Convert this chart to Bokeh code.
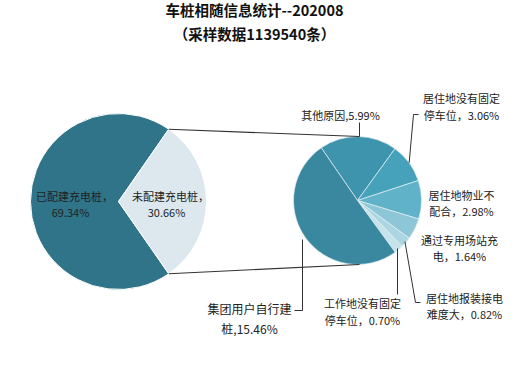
import math
from bokeh.plotting import figure
from bokeh.models import Range1d
from bokeh.core.properties import value
from bokeh.embed import file_html
from bokeh.resources import INLINE

# ---------------- data ----------------
title_lines = ["车桩相随信息统计--202008", "（采样数据1139540条）"]

main_labels = ["已配建充电桩", "未配建充电桩"]
main_values = [69.34, 30.66]

sub_labels = ["其他原因", "居住地没有固定停车位", "居住地物业不配合",
              "通过专用场站充电", "居住地报装接电难度大",
              "工作地没有固定停车位", "集团用户自行建桩"]
sub_values = [5.99, 3.06, 2.98, 1.64, 0.82, 0.70, 15.46]

# ---------------- style / layout ----------------
W, H = 504, 349
main_colors = ["#2F7489", "#DCE8EE"]
sub_colors = ["#3E94AC", "#46A2BB", "#60B2C9", "#8DC6D6", "#AAD5E1", "#C7E2EA", "#3A88A0"]
FONT = "Noto Sans CJK SC"

def Y(img_y):
    return 365 - img_y

p = figure(width=W, height=H, output_backend="svg", toolbar_location=None,
           x_range=Range1d(8, 8 + W), y_range=Range1d(365 - 8 - H, 365 - 8),
           min_border=0)
p.axis.visible = False
p.grid.visible = False
p.outline_line_color = None
p.background_fill_color = "white"

# main pie: second slice centred on the right (angle 0)
mcx, mcy, mr = 126, Y(209), 88
tot = sum(main_values)
half = main_values[1] / tot * math.pi
m_start = [half, -half]
m_end = [half + main_values[0] / tot * 2 * math.pi, half]
p.wedge(x=mcx, y=mcy, radius=mr, start_angle=m_start, end_angle=m_end,
        fill_color=main_colors, line_color="white", line_width=1)

# sub pie: clockwise from the top-left boundary
scx, scy, sr = 365, Y(208), 64
stot = sum(sub_values)
ang = math.radians(124.5)
s_start, s_end = [], []
for v in sub_values:
    a2 = ang - v / stot * 2 * math.pi
    s_start.append(a2)
    s_end.append(ang)
    ang = a2
p.wedge(x=scx, y=scy, radius=sr, start_angle=s_start, end_angle=s_end,
        fill_color=sub_colors, line_color="#E3EFF3", line_width=0.7)

# connectors from the split slice to the sub pie
tx, ty = mcx + mr * math.cos(half), mcy + mr * math.sin(half)
bx, by = mcx + mr * math.cos(-half), mcy + mr * math.sin(-half)
p.line([tx, scx + 2], [ty, scy + sr], line_color="#333333", line_width=1.2)
p.line([bx, scx + 2], [by, scy - sr], line_color="#333333", line_width=1.2)

# title
p.text(x=[262, 262], y=[Y(17), Y(41)], text=title_lines,
       text_font=value(FONT), text_font_style="bold", text_font_size="14.5px",
       text_align="center", text_baseline="middle", text_color="#111111")

# main labels
mlx = [78, 174]
m_l1 = [main_labels[0] + "，", main_labels[1] + "，"]
m_l2 = [f"{v:.2f}%" for v in main_values]
p.text(x=[x + 4 for x in mlx], y=[Y(203)] * 2, text=m_l1, text_font=value(FONT),
       text_font_size="11px", text_align="center", text_baseline="middle",
       text_color="#222222")
p.text(x=mlx, y=[Y(219)] * 2, text=m_l2, text_font=value(FONT),
       text_font_size="11px", text_align="center", text_baseline="middle",
       text_color="#222222")

# sub labels: (split index, separator, centre x, first-line img y)
breaks = [None, 7, 6, 7, 7, 7, 7]
seps = [",", "，", "，", "，", "，", "，", ","]
lab_x = [348, 469, 469, 467, 472, 370, 257]
lab_y = [122, 105, 202, 247, 305, 310, 316]
line_gap = [0, 17, 16, 16, 16, 17, 20]
sizes = ["11px"] * 6 + ["12px"]
xs, ys, ts, fs = [], [], [], []
for name, v, b, s, lx, ly, g, sz in zip(sub_labels, sub_values, breaks, seps,
                                        lab_x, lab_y, line_gap, sizes):
    full = f"{name}{s}{v:.2f}%"
    if b is None:
        xs.append(lx); ys.append(Y(ly)); ts.append(full); fs.append(sz)
    else:
        xs += [lx, lx]; ys += [Y(ly), Y(ly + g)]
        ts += [full[:b], full[b:]]; fs += [sz, sz]
p.text(x=xs, y=ys, text=ts, text_font=value(FONT), text_font_size=fs,
       text_align="center", text_baseline="middle", text_color="#222222")

# leader lines (label anchor -> slice edge)
def edge(i, frac=1.0):
    a = (s_start[i] + s_end[i]) / 2
    return scx + sr * frac * math.cos(a), scy + sr * frac * math.sin(a)

p.line([367, 367], [Y(130), Y(144)], line_color="#333333", line_width=1)
ex, ey = edge(1)
p.line([426, 421, ex], [Y(122), Y(122), ey], line_color="#333333", line_width=1)
ex, ey = edge(4, 0.98)
p.line([428, 423, ex], [Y(310), Y(310), ey], line_color="#333333", line_width=1)
ex, ey = edge(5, 0.98)
p.line([405, 405], [Y(302), ey], line_color="#333333", line_width=1)
p.line([302, 310, 310], [Y(318), Y(318), Y(247)], line_color="#333333", line_width=1)

open("out.html", "w").write(file_html(p, INLINE))
